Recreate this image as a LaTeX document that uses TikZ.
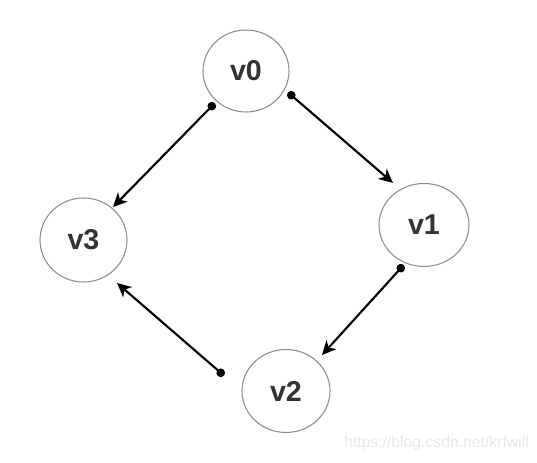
\documentclass[tikz,border=0pt]{standalone}
\usepackage{fontspec}
\setmainfont{Liberation Sans}
\usetikzlibrary{arrows.meta,shapes.geometric}
\definecolor{ringgray}{HTML}{8C8C8C}
\definecolor{labelgray}{HTML}{333333}
\definecolor{markgray}{HTML}{E8E8E8}
\begin{document}
\begin{tikzpicture}[x=0.75pt,y=-0.75pt,
  vertex/.style={ellipse,draw=ringgray,line width=0.8pt,inner sep=0pt,outer sep=0pt,
    font=\fontsize{21.5}{24}\selectfont\bfseries,text=labelgray},
  link/.style={line width=1.6pt,{Circle[length=6.4pt]}-{Stealth[length=10.5pt,width=10pt,inset=3pt]}},
  wm/.style={font=\fontsize{11.8}{14}\selectfont,text=markgray,inner sep=0pt}]
\useasboundingbox (0,0) rectangle (537,463);
\node[vertex,minimum width=64.5pt,minimum height=61.5pt] (v0) at (246,71) {v0};
\node[vertex,minimum width=67.5pt,minimum height=62.25pt] (v1) at (424,225) {v1};
\node[vertex,minimum width=66pt,minimum height=62.25pt] (v2) at (286,391) {v2};
\node[vertex,minimum width=65.25pt,minimum height=63pt] (v3) at (83.5,240) {v3};
\coordinate (s03) at (214.8,103.1);
\coordinate (e03) at (113,207);
\coordinate (s01) at (288,92.4);
\coordinate (e01) at (393,183);
\coordinate (s12) at (403.7,265);
\coordinate (e12) at (322,355);
\coordinate (s23) at (224,375.6);
\coordinate (e23) at (117,283);
\draw[link] (s03) -- (e03);
\draw[link] (s01) -- (e01);
\draw[link] (s12) -- (e12);
\draw[link] (s23) -- (e23);
\node[wm,anchor=base west] (mark) at (344,448) {https://blog.csdn.net/krfwill};
\end{tikzpicture}
\end{document}
